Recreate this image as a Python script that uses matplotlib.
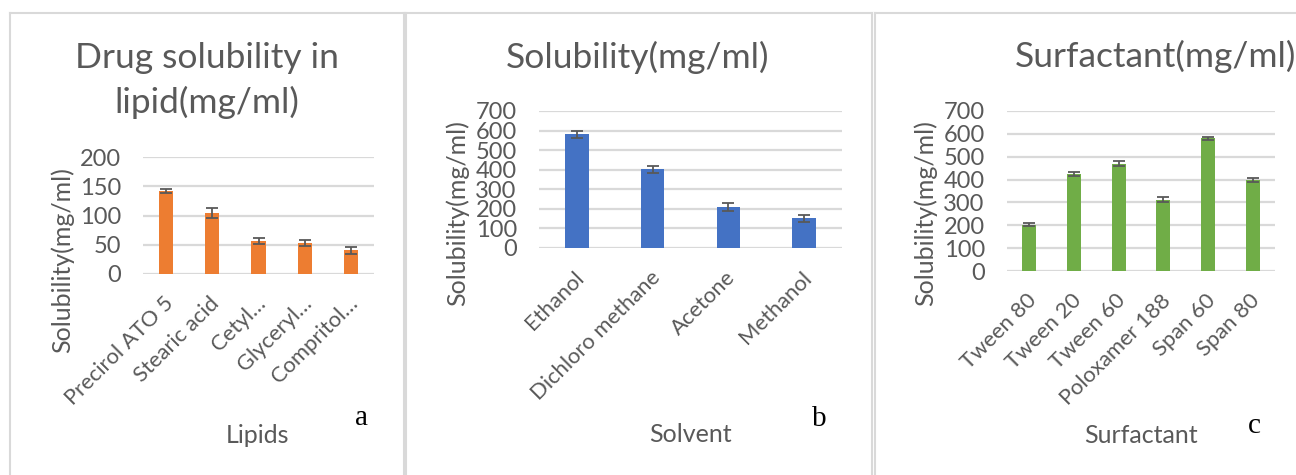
import matplotlib
matplotlib.use("Agg")
import matplotlib.pyplot as plt
import matplotlib.transforms as mtransforms
from matplotlib.lines import Line2D

W, H = 1296, 475
plt.rcParams['font.family'] = ['Lato', 'DejaVu Sans']

# ---- data ----
lipids = ["Precirol ATO 5", "Stearic acid", "Cetyl…", "Glyceryl…", "Compritol…"]
lipid_vals = [142, 104, 56, 53, 41]
lipid_err = [4, 8, 5, 5, 6]

solvents = ["Ethanol", "Dichloro methane", "Acetone", "Methanol"]
solvent_vals = [580, 403, 210, 152]
solvent_err = [20, 18, 22, 18]

surfactants = ["Tween 80", "Tween 20", "Tween 60", "Poloxamer 188", "Span 60", "Span 80"]
surf_vals = [203, 425, 470, 312, 580, 398]
surf_err = [8, 8, 10, 10, 8, 7]

lipid_ticks = [0, 50, 100, 150, 200]
other_ticks = [0, 100, 200, 300, 400, 500, 600, 700]

GRAY = "#595959"
GRID = "#d9d9d9"

fig = plt.figure(figsize=(W / 100, H / 100), dpi=100)


def fx(x):
    return x / W


def fy(y):
    return 1 - y / H


def add_ax(x0, x1, ytop, ybot):
    return fig.add_axes([fx(x0), fy(ybot), fx(x1 - x0), (ybot - ytop) / H])


def style(ax, cats, vals, errs, color, ticks, ytick_fs, xtick_fs):
    x = list(range(len(cats)))
    ax.bar(x, vals, width=0.31, color=color, zorder=3)
    ax.errorbar(x, vals, yerr=errs, fmt='none', ecolor=GRAY, elinewidth=1.3,
                capsize=4.5, capthick=1.3, zorder=4)
    ax.set_xlim(-0.5, len(cats) - 0.5)
    ax.set_ylim(ticks[0], ticks[-1])
    ax.set_yticks(ticks)
    ax.yaxis.grid(True, color=GRID, linewidth=1.6, zorder=0)
    ax.set_axisbelow(True)
    for s in ax.spines.values():
        s.set_visible(False)
    ax.tick_params(axis='both', length=0, colors=GRAY)
    ax.tick_params(axis='y', pad=16, labelsize=ytick_fs)
    ax.set_xticks(x)
    ax.set_xticklabels(cats, rotation=45, ha='right', rotation_mode='anchor',
                       color=GRAY, fontsize=xtick_fs)
    ax.tick_params(axis='x', pad=14)
    off = mtransforms.ScaledTranslation(-3 / 100, 0, fig.dpi_scale_trans)
    for lab in ax.get_xticklabels():
        lab.set_transform(lab.get_transform() + off)
    ax.patch.set_alpha(0)


YT, XT = 17, 15.8
# panel a
ax1 = add_ax(143, 374, 157, 274)
style(ax1, lipids, lipid_vals, lipid_err, "#ED7D31", lipid_ticks, YT, XT)
# panel b
ax2 = add_ax(539, 842, 111, 248)
style(ax2, solvents, solvent_vals, solvent_err, "#4472C4", other_ticks, YT, XT)
# panel c
ax3 = add_ax(1007, 1275, 111, 271)
style(ax3, surfactants, surf_vals, surf_err, "#70AD47", other_ticks, YT, XT)

# titles
tfs = 25.5
fig.text(fx(207), fy(68), "Drug solubility in", ha='center', va='baseline', fontsize=tfs, color=GRAY)
fig.text(fx(207), fy(113), "lipid(mg/ml)", ha='center', va='baseline', fontsize=tfs, color=GRAY)
fig.text(fx(638), fy(68), "Solubility(mg/ml)", ha='center', va='baseline', fontsize=tfs, color=GRAY)
fig.text(fx(1156), fy(67), "Surfactant(mg/ml)", ha='center', va='baseline', fontsize=tfs, color=GRAY)

# y labels
yfs = 18
fig.text(fx(62), fy(260), "Solubility(mg/ml)", rotation=90, ha='center', va='center', fontsize=yfs, color=GRAY)
fig.text(fx(457), fy(213), "Solubility(mg/ml)", rotation=90, ha='center', va='center', fontsize=yfs, color=GRAY)
fig.text(fx(925), fy(213), "Solubility(mg/ml)", rotation=90, ha='center', va='center', fontsize=yfs, color=GRAY)

# x labels
xfs = 18
fig.text(fx(258), fy(443), "Lipids", ha='center', va='baseline', fontsize=xfs, color=GRAY)
fig.text(fx(690), fy(442), "Solvent", ha='center', va='baseline', fontsize=xfs, color=GRAY)
fig.text(fx(1141), fy(443), "Surfactant", ha='center', va='baseline', fontsize=xfs, color=GRAY)

# panel letters
lfs = 21
fig.text(fx(362), fy(425), "a", ha='center', va='baseline', fontsize=lfs, color='black', family='Liberation Serif')
fig.text(fx(819), fy(426), "b", ha='center', va='baseline', fontsize=lfs, color='black', family='Liberation Serif')
fig.text(fx(1254), fy(433), "c", ha='center', va='baseline', fontsize=lfs, color='black', family='Liberation Serif')

# panel borders
BC = "#d9d9d9"
for (x0, x1) in [(9.5, 404), (406, 872), (874.5, 1300)]:
    fig.add_artist(Line2D([fx(x0), fx(x1)], [fy(12.5), fy(12.5)], color=BC, lw=1.5))
    fig.add_artist(Line2D([fx(x0), fx(x0)], [fy(12.5), fy(480)], color=BC, lw=1.5))
    fig.add_artist(Line2D([fx(x1), fx(x1)], [fy(12.5), fy(480)], color=BC, lw=1.5))

fig.savefig("out.png", dpi=100)
